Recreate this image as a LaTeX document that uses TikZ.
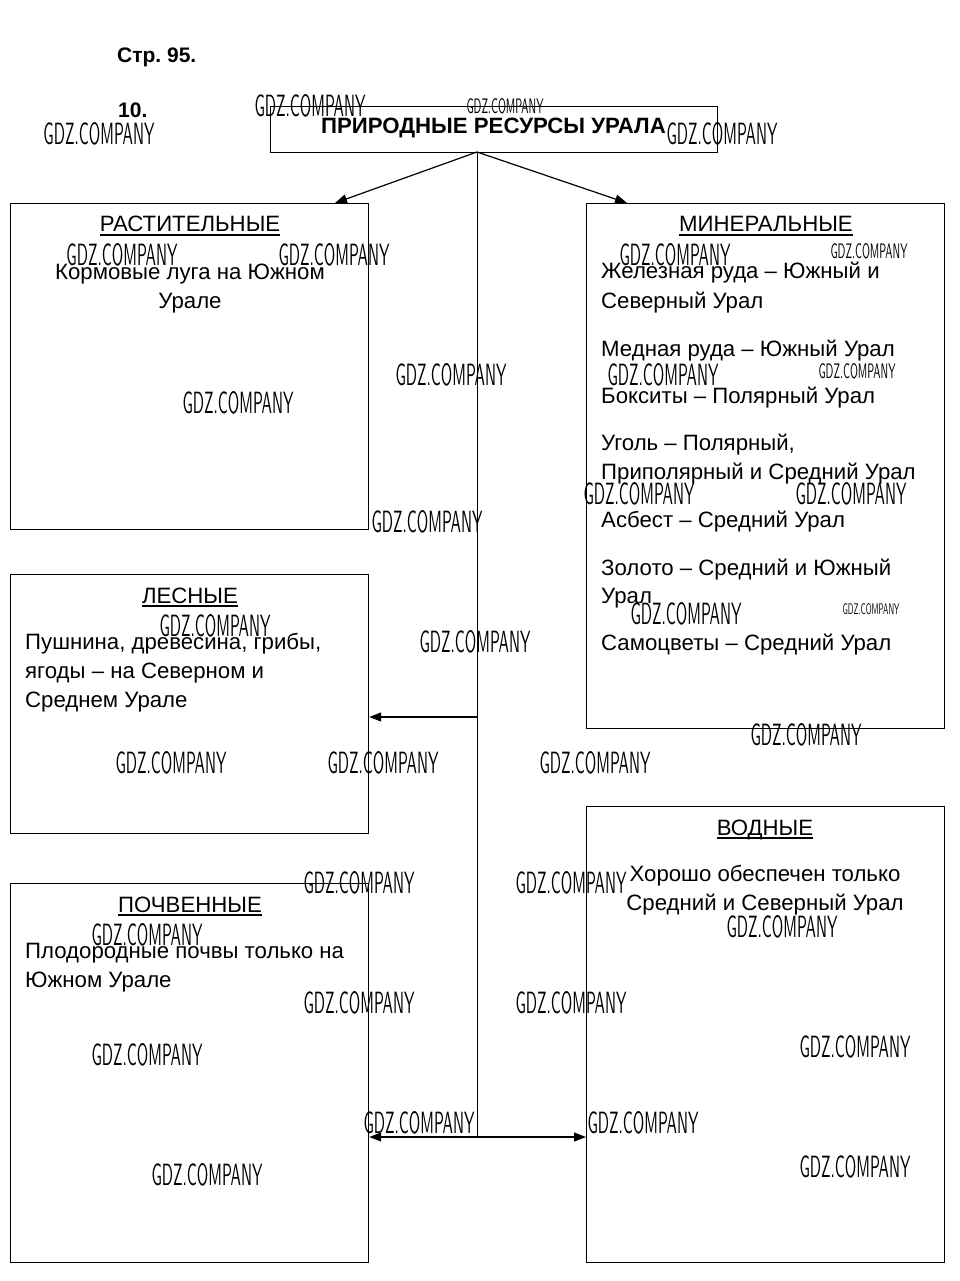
\documentclass[tikz,border=0pt]{standalone}
\usepackage{graphicx}
\usepackage{fontspec}
\setmainfont{Liberation Sans}
\frenchspacing
\usetikzlibrary{arrows.meta}
\newcommand{\wmtext}[2]{\resizebox{#1pt}{#2pt}{\sffamily GDZ.COMPANY}}
\begin{document}
\begin{tikzpicture}[x=1pt,y=-1pt,
  box/.style={draw, line width=1.2pt, inner sep=0pt, anchor=north west},
  txt/.style={inner sep=0pt, font=\fontsize{22.2}{29}\selectfont},
  hdr/.style={inner sep=0pt, font=\fontsize{22.2}{29}\selectfont, anchor=base},
  bold/.style={inner sep=0pt, font=\fontsize{22.2}{29}\selectfont\bfseries},
  boldsmall/.style={inner sep=0pt, font=\fontsize{21}{29}\selectfont\bfseries},
  wm/.style={inner sep=0pt, text=black},
  conn/.style={line width=1pt},
  arr/.style={line width=1.2pt, -{Triangle[length=12pt,width=9pt]}},
  ul/.style={line width=1.2pt}]
\useasboundingbox (0,0) rectangle (959,1281);
\fill[white] (0,0) rectangle (959,1281);

% headings
\node[boldsmall, anchor=base west] (str) at (117,63) {Стр. 95.};
\node[boldsmall, anchor=base west] (num) at (118,118) {10.};

% boxes
\node[box, minimum width=447pt, minimum height=46pt] (title) at (270,106) {};
\node[bold, anchor=base] (titletext) at (493.5,134) {ПРИРОДНЫЕ РЕСУРСЫ УРАЛА};
\node[box, minimum width=358pt, minimum height=326pt] (rast) at (10,203) {};
\node[box, minimum width=358pt, minimum height=525pt] (min) at (586,203) {};
\node[box, minimum width=358pt, minimum height=259pt] (les) at (10,574) {};
\node[box, minimum width=358pt, minimum height=379pt] (poch) at (10,883) {};
\node[box, minimum width=358pt, minimum height=456pt] (vod) at (586,806) {};

% connectors
\coordinate (top) at (477,152);
\coordinate (j1) at (477,717);
\coordinate (j2) at (477,1137);
\coordinate (rasttip) at (335,203);
\coordinate (mintip) at (627,203);
\draw[arr] (top) -- (rasttip);
\draw[arr] (top) -- (mintip);
\draw[conn] (top) -- (j2);
\draw[arr] (j1) -- (les.east |- j1);
\draw[arr] (j2) -- (poch.east |- j2);
\draw[arr] (j2) -- (vod.west |- j2);

% headers
\node[hdr] (h1) at (190,232) {РАСТИТЕЛЬНЫЕ};
\node[hdr] (h2) at (766,232) {МИНЕРАЛЬНЫЕ};
\node[hdr] (h3) at (190,603) {ЛЕСНЫЕ};
\node[hdr] (h4) at (190,912) {ПОЧВЕННЫЕ};
\node[hdr] (h5) at (765,835) {ВОДНЫЕ};
\foreach \h in {h1,h2,h3,h4,h5}
  \draw[ul] ([yshift=-3pt]\h.base west) -- ([yshift=-3pt]\h.base east);

% Растительные
\node[txt, anchor=base] (r1) at (190,279) {Кормовые луга на Южном};
\node[txt, anchor=base] (r2) at (190,308) {Урале};

% Минеральные
\node[txt, anchor=base west] (m1) at (601,278) {Железная руда – Южный и};
\node[txt, anchor=base west] (m2) at (601,308) {Северный Урал};
\node[txt, anchor=base west] (m3) at (601,356) {Медная руда – Южный Урал};
\node[txt, anchor=base west] (m4) at (601,403) {Бокситы – Полярный Урал};
\node[txt, anchor=base west] (m5) at (601,450) {Уголь – Полярный,};
\node[txt, anchor=base west] (m6) at (601,479) {Приполярный и Средний Урал};
\node[txt, anchor=base west] (m7) at (601,527) {Асбест – Средний Урал};
\node[txt, anchor=base west] (m8) at (601,575) {Золото – Средний и Южный};
\node[txt, anchor=base west] (m9) at (601,603) {Урал};
\node[txt, anchor=base west] (m10) at (601,650) {Самоцветы – Средний Урал};

% Лесные
\node[txt, anchor=base west] (l1) at (25,649) {Пушнина, древесина, грибы,};
\node[txt, anchor=base west] (l2) at (25,678) {ягоды – на Северном и};
\node[txt, anchor=base west] (l3) at (25,707) {Среднем Урале};

% Почвенные
\node[txt, anchor=base west] (p1) at (25,958) {Плодородные почвы только на};
\node[txt, anchor=base west] (p2) at (25,987) {Южном Урале};

% Водные
\node[txt, anchor=base] (v1) at (765,881) {Хорошо обеспечен только};
\node[txt, anchor=base] (v2) at (765,910) {Средний и Северный Урал};

% watermarks
\foreach \i/\x/\y in {1/310/106, 3/99/134, 4/722/134, 5/122/255, 6/334/255,
  7/675/255, 9/451/375, 10/663/375, 12/238/403, 13/639/494, 14/851/494,
  15/427/522, 16/215/626, 17/686/614, 19/475/642, 20/806/735, 21/171/763,
  22/383/763, 23/595/763, 24/359/883, 25/571/883, 26/782/927, 27/147/935,
  28/359/1003, 29/571/1003, 30/855/1047, 31/147/1055, 32/419/1123,
  33/643/1123, 34/207/1175, 35/855/1167}
  \node[wm] (wm\i) at (\x,\y) {\wmtext{111}{22}};
\foreach \i/\x/\y in {2/505/106, 8/869/251, 11/857/371}
  \node[wm] (wm\i) at (\x,\y) {\wmtext{77}{15}};
\node[wm] (wm18) at (871,609) {\wmtext{57}{11}};
\end{tikzpicture}
\end{document}
